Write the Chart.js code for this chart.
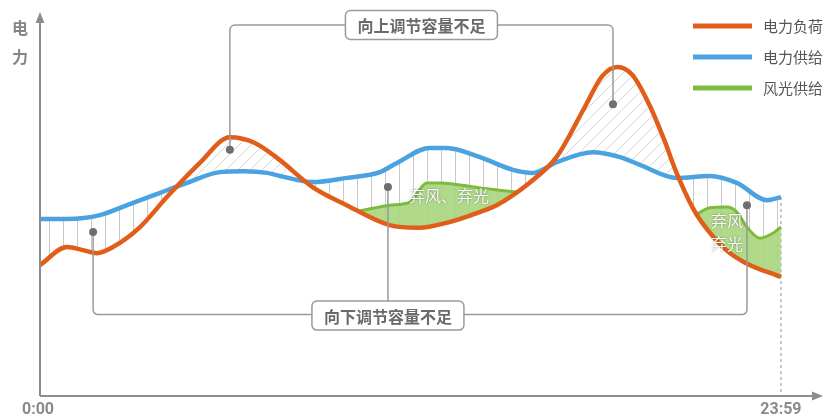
<!DOCTYPE html>
<html>
<head>
<meta charset="utf-8">
<script src="https://cdn.jsdelivr.net/npm/chart.js@4.4.0/dist/chart.umd.min.js"></script>
<style>
  html, body { margin: 0; padding: 0; background: #fff; }
  canvas { display: block; }
</style>
</head>
<body>
<canvas id="power-chart" width="824" height="419"></canvas>
<script>
// x: hour of day, y: relative power (0-100)
var loadHours  = [0, 0.87, 1.39, 1.84, 2.36, 3.24, 4.11, 5.18, 6.15, 6.96, 7.76, 8.83, 9.93, 11.32, 12.29, 13.17, 14.24, 14.79, 15.85, 16.73, 17.63, 18.21, 18.70, 19.19, 19.74, 20.22, 20.61, 21.13, 21.45, 22.23, 22.87, 24];
var loadValues = [34.1, 38.8, 38.0, 37.2, 38.8, 44.0, 51.8, 60.7, 67.4, 65.9, 61.5, 54.4, 49.7, 44.5, 43.8, 45.1, 47.9, 49.7, 55.5, 62.2, 75.0, 83.3, 85.7, 83.6, 75.8, 66.7, 58.3, 49.2, 45.1, 38.0, 34.6, 31.0];

var supplyHours  = [0, 0.87, 1.94, 2.82, 3.89, 4.76, 5.83, 6.6, 7.35, 7.77, 8.84, 9.94, 11.01, 11.56, 12.63, 13.18, 14.25, 15.32, 15.97, 16.74, 17.91, 18.79, 19.43, 20.63, 21.70, 22.57, 23.55, 24];
var supplyValues = [46.1, 46.1, 47.1, 49.7, 52.9, 55.5, 58.3, 58.5, 58.1, 57.3, 55.7, 56.8, 58.3, 60.7, 64.6, 64.6, 62.2, 58.9, 58.1, 60.9, 63.5, 62.2, 60.2, 56.8, 57.3, 55.5, 51.0, 51.8];

// wind + solar output, only where it is drawn above the load
var windMidHours  = [10.36, 11.34, 11.98, 12.53, 12.96, 14.25, 15.42];
var windMidValues = [48.2, 49.7, 50.5, 55.5, 55.5, 54.2, 53.1];
var windEndHours  = [21.28, 21.70, 22.25, 22.57, 22.90, 23.32, 23.74, 24];
var windEndValues = [47.4, 49.0, 49.2, 47.9, 44.0, 41.1, 42.4, 44.0];

var seriesNames = ['电力负荷', '电力供给', '风光供给'];
var tickHours = [0, 24];
var tickLabels = ['0:00', '23:59'];

// annotation anchors [hour, value]
var upMarks = [[6.15, 64.1], [18.56, 76.0]];
var downMarks = [[1.72, 42.7], [11.27, 54.4], [22.90, 49.7]];
var upLevel = 96.6;
var downLevel = 21.2;

var orange = '#e05e1a';
var blue = '#4aa3e0';
var green = '#7dbb3d';
var greenFill = 'rgba(170, 214, 128, 0.92)';

function toPoints(xs, ys) {
  var pts = [];
  for (var i = 0; i < xs.length; i++) pts.push({ x: xs[i], y: ys[i] });
  return pts;
}

function makePattern(size, draw) {
  var c = document.createElement('canvas');
  c.width = size; c.height = size;
  var g = c.getContext('2d');
  g.strokeStyle = '#c9c9c9';
  g.lineWidth = 1;
  draw(g, size);
  return c.getContext('2d').createPattern(c, 'repeat');
}

var vertHatch = makePattern(14, function (g, s) {
  g.beginPath(); g.moveTo(7.5, 0); g.lineTo(7.5, s); g.stroke();
});
var diagHatch = makePattern(12, function (g, s) {
  g.strokeStyle = '#d6d6d6';
  g.beginPath();
  g.moveTo(0, s); g.lineTo(s, 0);
  g.moveTo(-1, 1); g.lineTo(1, -1);
  g.moveTo(s - 1, s + 1); g.lineTo(s + 1, s - 1);
  g.stroke();
});

function roundRect(ctx, x, y, w, h, r) {
  ctx.beginPath();
  ctx.moveTo(x + r, y);
  ctx.arcTo(x + w, y, x + w, y + h, r);
  ctx.arcTo(x + w, y + h, x, y + h, r);
  ctx.arcTo(x, y + h, x, y, r);
  ctx.arcTo(x, y, x + w, y, r);
  ctx.closePath();
}

function labelBox(ctx, cx, cy, text) {
  ctx.font = 'bold 16px "Noto Sans CJK SC"';
  var w = ctx.measureText(text).width + 24;
  var h = 29;
  roundRect(ctx, cx - w / 2, cy - h / 2, w, h, 5);
  ctx.fillStyle = '#fff';
  ctx.fill();
  ctx.strokeStyle = '#9a9a9a';
  ctx.lineWidth = 1.5;
  ctx.stroke();
  ctx.fillStyle = '#6a6a6a';
  ctx.textAlign = 'center';
  ctx.textBaseline = 'middle';
  ctx.fillText(text, cx, cy + 1);
}

function curtailText(ctx, text, x, y) {
  ctx.save();
  ctx.font = '16px "Noto Sans CJK SC"';
  ctx.textAlign = 'center';
  ctx.textBaseline = 'middle';
  ctx.shadowColor = 'rgba(0,0,0,0.45)';
  ctx.shadowBlur = 2;
  ctx.fillStyle = '#fafafa';
  ctx.fillText(text, x, y);
  ctx.restore();
}

var annotations = {
  id: 'annotations',
  beforeDatasetsDraw: function (chart) {
    var ctx = chart.ctx, xs = chart.scales.x, ys = chart.scales.y;
    var a = chart.chartArea;
    ctx.save();
    // end-of-day marker
    var xe = xs.getPixelForValue(24);
    ctx.strokeStyle = '#a0a0a0';
    ctx.lineWidth = 1.2;
    ctx.setLineDash([3, 3]);
    ctx.beginPath();
    ctx.moveTo(xe, ys.getPixelForValue(supplyValues[supplyValues.length - 1]));
    ctx.lineTo(xe, a.bottom);
    ctx.stroke();
    ctx.restore();
  },
  afterDatasetsDraw: function (chart) {
    var ctx = chart.ctx, xs = chart.scales.x, ys = chart.scales.y;
    var a = chart.chartArea;
    var r = 5;
    ctx.save();

    curtailText(ctx, '弃风、弃光', xs.getPixelForValue(13.25), ys.getPixelForValue(52.1));
    curtailText(ctx, '弃风', xs.getPixelForValue(22.25), ys.getPixelForValue(45.6));
    curtailText(ctx, '弃光', xs.getPixelForValue(22.25), ys.getPixelForValue(39.6));

    ctx.strokeStyle = '#9a9a9a';
    ctx.lineWidth = 1.5;

    // upward regulation shortfall bracket
    var u1x = xs.getPixelForValue(upMarks[0][0]), u1y = ys.getPixelForValue(upMarks[0][1]);
    var u2x = xs.getPixelForValue(upMarks[1][0]), u2y = ys.getPixelForValue(upMarks[1][1]);
    var ut = ys.getPixelForValue(upLevel);
    ctx.beginPath();
    ctx.moveTo(u1x, u1y);
    ctx.lineTo(u1x, ut + r);
    ctx.arcTo(u1x, ut, u1x + r, ut, r);
    ctx.lineTo(u2x - r, ut);
    ctx.arcTo(u2x, ut, u2x, ut + r, r);
    ctx.lineTo(u2x, u2y);
    ctx.stroke();

    // downward regulation shortfall bracket
    var d1x = xs.getPixelForValue(downMarks[0][0]), d1y = ys.getPixelForValue(downMarks[0][1]);
    var d2x = xs.getPixelForValue(downMarks[1][0]), d2y = ys.getPixelForValue(downMarks[1][1]);
    var d3x = xs.getPixelForValue(downMarks[2][0]), d3y = ys.getPixelForValue(downMarks[2][1]);
    var db = ys.getPixelForValue(downLevel);
    ctx.beginPath();
    ctx.moveTo(d1x, d1y);
    ctx.lineTo(d1x, db - r);
    ctx.arcTo(d1x, db, d1x + r, db, r);
    ctx.lineTo(d3x - r, db);
    ctx.arcTo(d3x, db, d3x, db - r, r);
    ctx.lineTo(d3x, d3y);
    ctx.moveTo(d2x, d2y);
    ctx.lineTo(d2x, db);
    ctx.stroke();

    // anchor dots
    ctx.fillStyle = '#6e6e6e';
    upMarks.concat(downMarks).forEach(function (m) {
      ctx.beginPath();
      ctx.arc(xs.getPixelForValue(m[0]), ys.getPixelForValue(m[1]), 4, 0, Math.PI * 2);
      ctx.fill();
    });

    labelBox(ctx, (u1x + u2x) / 2, ut, '向上调节容量不足');
    labelBox(ctx, d2x, db + 1, '向下调节容量不足');

    // axes with arrow heads
    ctx.strokeStyle = '#8c8c8c';
    ctx.fillStyle = '#8c8c8c';
    ctx.lineWidth = 2;
    ctx.beginPath();
    ctx.moveTo(a.left, a.bottom);
    ctx.lineTo(a.left, a.top + 8);
    ctx.moveTo(a.left, a.bottom);
    ctx.lineTo(a.right - 6, a.bottom);
    ctx.stroke();
    ctx.beginPath();
    ctx.moveTo(a.left, a.top);
    ctx.lineTo(a.left - 4.5, a.top + 11);
    ctx.lineTo(a.left + 4.5, a.top + 11);
    ctx.closePath();
    ctx.fill();
    ctx.beginPath();
    ctx.moveTo(a.right + 1, a.bottom);
    ctx.lineTo(a.right - 10, a.bottom - 4.5);
    ctx.lineTo(a.right - 10, a.bottom + 4.5);
    ctx.closePath();
    ctx.fill();

    // tick labels
    ctx.font = 'bold 16px Roboto';
    ctx.fillStyle = '#8a8a8a';
    ctx.textAlign = 'center';
    ctx.textBaseline = 'top';
    for (var i = 0; i < tickHours.length; i++) {
      ctx.fillText(tickLabels[i], xs.getPixelForValue(tickHours[i]) - (i === 0 ? 2 : 0), a.bottom + 6);
    }

    // y axis title, stacked vertically
    ctx.font = 'bold 16px "Noto Sans CJK SC"';
    ctx.fillStyle = '#858585';
    ctx.textBaseline = 'middle';
    ctx.fillText('电', 20, 28);
    ctx.fillText('力', 20, 57);

    // legend
    var colors = [orange, blue, green];
    ctx.font = '15px "Noto Sans CJK SC"';
    ctx.textAlign = 'left';
    for (var k = 0; k < seriesNames.length; k++) {
      var ly = 26 + k * 31;
      ctx.strokeStyle = colors[k];
      ctx.lineWidth = 5;
      ctx.lineCap = 'butt';
      ctx.beginPath();
      ctx.moveTo(693, ly);
      ctx.lineTo(752, ly);
      ctx.stroke();
      ctx.fillStyle = '#555';
      ctx.fillText(seriesNames[k], 763, ly);
    }
    ctx.restore();
  }
};

new Chart(document.getElementById('power-chart'), {
  type: 'line',
  data: {
    datasets: [
      {
        label: seriesNames[0],
        data: toPoints(loadHours, loadValues),
        borderColor: orange,
        borderWidth: 4.5,
        pointRadius: 0,
        cubicInterpolationMode: 'monotone',
        fill: false,
        order: 0
      },
      {
        label: seriesNames[1],
        data: toPoints(supplyHours, supplyValues),
        borderColor: blue,
        borderWidth: 4.5,
        pointRadius: 0,
        cubicInterpolationMode: 'monotone',
        fill: { target: 0, above: vertHatch, below: diagHatch },
        order: 3
      },
      {
        label: seriesNames[2],
        data: toPoints(windMidHours, windMidValues),
        borderColor: green,
        borderWidth: 3,
        pointRadius: 0,
        cubicInterpolationMode: 'monotone',
        fill: { target: 0, above: greenFill, below: 'rgba(0,0,0,0)' },
        order: 1
      },
      {
        label: seriesNames[2],
        data: toPoints(windEndHours, windEndValues),
        borderColor: green,
        borderWidth: 3,
        pointRadius: 0,
        cubicInterpolationMode: 'monotone',
        fill: { target: 0, above: greenFill, below: 'rgba(0,0,0,0)' },
        order: 1
      }
    ]
  },
  options: {
    responsive: false,
    animation: false,
    devicePixelRatio: 1,
    layout: { padding: { left: 40, top: 12, right: 2, bottom: 23 } },
    scales: {
      x: { type: 'linear', min: 0, max: 25.33, display: false },
      y: { type: 'linear', min: 0, max: 100, display: false }
    },
    plugins: {
      legend: { display: false },
      tooltip: { enabled: false },
      filler: { propagate: false }
    }
  },
  plugins: [annotations]
});
</script>
</body>
</html>
